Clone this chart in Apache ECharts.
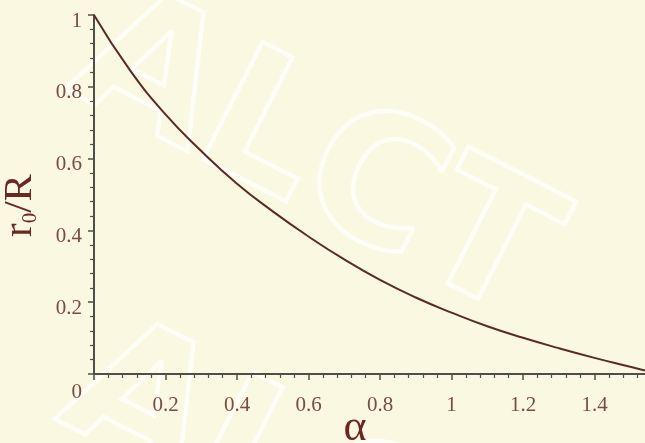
<!DOCTYPE html>
<html>
<head>
<meta charset="utf-8">
<script src="https://cdn.jsdelivr.net/npm/echarts@6/dist/echarts.min.js"></script>
<style>
html,body{margin:0;padding:0;background:#FAF8E1;}
#chart{width:645px;height:443px;}
</style>
</head>
<body>
<div id="chart"></div>
<script>
// Data
var alphaValues = [0, 0.1, 0.2, 0.3, 0.4, 0.5, 0.6, 0.7, 0.8, 0.9, 1.0, 1.1, 1.2, 1.3, 1.4, 1.5, 1.541];
var r0Values    = [1.0, 0.847, 0.723, 0.621, 0.530, 0.453, 0.383, 0.319, 0.262, 0.213, 0.171, 0.133, 0.101, 0.072, 0.045, 0.020, 0.010];
var xTickValues = [0.2, 0.4, 0.6, 0.8, 1, 1.2, 1.4];
var yTickValues = [0, 0.2, 0.4, 0.6, 0.8, 1];

var seriesData = alphaValues.map(function (a, i) { return [a, r0Values[i]]; });

var axisColor = '#4f4f47';
var labelColor = '#7a4c40';
var titleColor = '#6a2820';
var serif = '"Liberation Serif", "DejaVu Serif", serif';
var wmStyle = {text: 'ALCT', font: 'bold 180px "DejaVu Sans"', fill: 'rgba(0,0,0,0)',
               stroke: 'rgba(255,255,255,0.7)', lineWidth: 4.5, align: 'center', verticalAlign: 'middle'};

var chart = echarts.init(document.getElementById('chart'), null, {renderer: 'canvas'});
chart.setOption({
  backgroundColor: '#FAF8E1',
  animation: false,
  graphic: [
    {type: 'text', silent: true, z: -10, x: 312, y: 162, rotation: -0.47, style: wmStyle},
    {type: 'text', silent: true, z: -10, x: 302, y: 492, rotation: -0.47, style: wmStyle}
  ],
  grid: {left: 94, top: 15, width: 572, height: 359, containLabel: false, outerBoundsMode: 'none'},
  xAxis: {
    type: 'value', min: 0, max: 1.6, interval: 0.2,
    name: 'α', nameLocation: 'middle', nameGap: 32, nameMoveOverlap: false,
    nameTextStyle: {fontFamily: serif, fontSize: 44, color: titleColor, padding: [0, 50, 0, 0]},
    axisLine: {show: true, onZero: false, lineStyle: {color: axisColor, width: 2}},
    axisTick: {show: true, inside: false, length: 6, lineStyle: {color: axisColor, width: 1.5}},
    minorTick: {show: true, splitNumber: 5, length: 4, lineStyle: {color: axisColor, width: 1.2}},
    splitLine: {show: false},
    axisLabel: {
      margin: 21, fontFamily: serif, fontSize: 21, color: labelColor,
      formatter: function (v) {
        var r = Math.round(v * 10) / 10;
        return xTickValues.indexOf(r) >= 0 ? String(r) : '';
      }
    }
  },
  yAxis: {
    type: 'value', min: 0, max: 1, interval: 0.2,
    name: '{r|r}{s|0}{r|/R}', nameLocation: 'middle', nameGap: 53, nameRotate: 90, nameMoveOverlap: false,
    nameTextStyle: {
      padding: [0, 22, 0, 0],
      rich: {
        r: {fontFamily: serif, fontSize: 41, color: titleColor, verticalAlign: 'bottom'},
        s: {fontFamily: serif, fontSize: 21, color: titleColor, verticalAlign: 'bottom'}
      }
    },
    axisLine: {show: true, lineStyle: {color: axisColor, width: 2}},
    axisTick: {show: true, inside: false, length: 6, lineStyle: {color: axisColor, width: 1.5}},
    minorTick: {show: true, splitNumber: 5, length: 4, lineStyle: {color: axisColor, width: 1.2}},
    splitLine: {show: false},
    axisLabel: {
      margin: 12, color: labelColor, verticalAlign: 'middle',
      formatter: function (v) {
        var r = Math.round(v * 10) / 10;
        if (yTickValues.indexOf(r) < 0) return '';
        return r === 0 ? '{z|0}' : '{n|' + r + '}';
      },
      rich: {
        n: {fontFamily: serif, fontSize: 21, color: labelColor, padding: [12, 0, 0, 0]},
        z: {fontFamily: serif, fontSize: 21, color: labelColor, padding: [37, 0, 0, 0]}
      }
    }
  },
  series: [{
    type: 'line', data: seriesData, smooth: true, showSymbol: false, z: 5,
    lineStyle: {color: '#5a2a28', width: 2}
  }]
});
</script>
</body>
</html>
